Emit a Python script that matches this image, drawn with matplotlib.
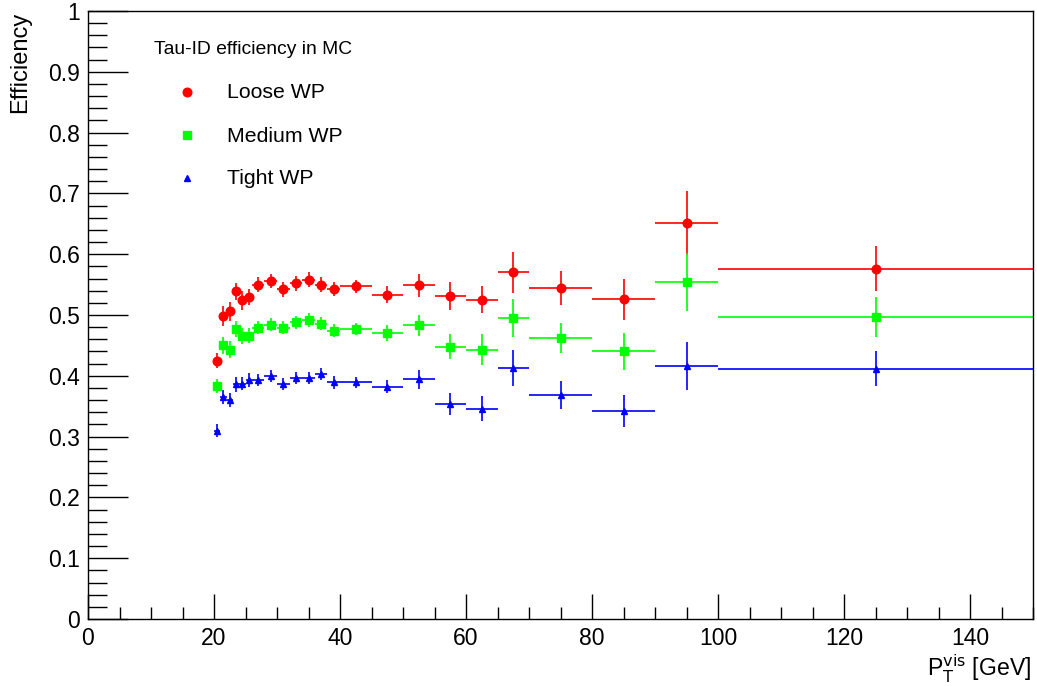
import matplotlib
matplotlib.use("Agg")
import matplotlib.pyplot as plt
from matplotlib.ticker import MultipleLocator
from matplotlib.lines import Line2D
import numpy as np

plt.rcParams['font.family'] = ['Liberation Sans', 'DejaVu Sans']

bin_edges = [20, 21, 22, 23, 24, 25, 26, 28, 30, 32, 34, 36, 38, 40, 45, 50, 55, 60, 65, 70, 80, 90, 100, 150]

loose = [0.425, 0.498, 0.506, 0.539, 0.524, 0.530, 0.550, 0.556, 0.542, 0.552, 0.558, 0.550, 0.543, 0.547,
         0.533, 0.549, 0.531, 0.525, 0.570, 0.544, 0.526, 0.651, 0.576]
loose_err = [0.012, 0.016, 0.016, 0.014, 0.015, 0.013, 0.012, 0.012, 0.012, 0.012, 0.012, 0.012, 0.012, 0.010,
             0.014, 0.019, 0.023, 0.022, 0.033, 0.028, 0.034, 0.053, 0.037]

medium = [0.383, 0.450, 0.443, 0.477, 0.466, 0.466, 0.479, 0.484, 0.479, 0.488, 0.492, 0.486, 0.474, 0.477,
          0.470, 0.483, 0.448, 0.443, 0.495, 0.462, 0.440, 0.554, 0.496]
medium_err = [0.011, 0.014, 0.014, 0.013, 0.013, 0.012, 0.011, 0.011, 0.011, 0.011, 0.011, 0.011, 0.011, 0.010,
              0.013, 0.017, 0.021, 0.025, 0.031, 0.025, 0.031, 0.048, 0.033]

tight = [0.310, 0.365, 0.360, 0.386, 0.387, 0.393, 0.393, 0.399, 0.386, 0.397, 0.397, 0.403, 0.389, 0.389,
         0.382, 0.394, 0.354, 0.346, 0.413, 0.368, 0.342, 0.416, 0.412]
tight_err = [0.010, 0.012, 0.012, 0.012, 0.011, 0.011, 0.010, 0.010, 0.010, 0.010, 0.010, 0.010, 0.010, 0.009,
             0.011, 0.016, 0.018, 0.021, 0.029, 0.023, 0.027, 0.040, 0.029]

labels = ["Loose WP", "Medium WP", "Tight WP"]
legend_title = "Tau-ID efficiency in MC"

W, H = 1037, 687
edges = np.array(bin_edges, dtype=float)
xc = 0.5 * (edges[:-1] + edges[1:])
xw = 0.5 * (edges[1:] - edges[:-1])

fig = plt.figure(figsize=(W/100, H/100), dpi=100)
ax = fig.add_axes([88/W, 1-619/H, (1033-88)/W, (619-11)/H])

series = [
    (loose, loose_err, '#ff0000', 'o', 6.2),
    (medium, medium_err, '#00ff00', 's', 5.2),
    (tight, tight_err, '#0000ff', '^', 5.0),
]
for (vals, errs, col, mk, ms), lab in zip(series, labels):
    ax.errorbar(xc, vals, xerr=xw, yerr=errs, fmt=mk, color=col, ms=ms,
                mec=col, mfc=col, elinewidth=1.2, capsize=0, label=lab)

ax.set_xlim(0, 150)
ax.set_ylim(0, 1)
ax.xaxis.set_major_locator(MultipleLocator(20))
ax.xaxis.set_minor_locator(MultipleLocator(5))
ax.yaxis.set_major_locator(MultipleLocator(0.1))
ax.yaxis.set_minor_locator(MultipleLocator(0.02))
ax.yaxis.set_major_formatter(plt.FuncFormatter(lambda v, p: "0" if abs(v) < 1e-9 else ("1" if abs(v-1) < 1e-9 else f"{v:.1f}")))
ax.tick_params(axis='both', which='both', direction='in', top=False, right=False, labelsize=16.5)
ax.tick_params(axis='x', which='major', length=18, width=1, pad=6)
ax.tick_params(axis='x', which='minor', length=9, width=1)
ax.tick_params(axis='y', which='major', length=29, width=1, pad=6)
ax.tick_params(axis='y', which='minor', length=14, width=1)
for s in ax.spines.values():
    s.set_linewidth(1.0)
    s.set_color('black')

fig.text(20/W, 1-12/H, "Efficiency", rotation=90, ha='center', va='top', fontsize=17)
fig.text(1031/W, 1-669/H, r"P$_{\mathrm{T}}^{\mathrm{vis}}$ [GeV]", ha='right', va='center', fontsize=16.6)

# legend (markers only, ROOT style)
fig.text(154/W, 1-49/H, legend_title, ha='left', va='center', fontsize=13.9)
leg_y = [92, 135, 178]
for (vals, errs, col, mk, ms), lab, yy in zip(series, labels, leg_y):
    fig.add_artist(Line2D([186.5/W], [1-yy/H], marker=mk, color=col, ms=ms, mec=col, mfc=col,
                          linestyle='none', transform=fig.transFigure))
    fig.text(227/W, 1-(yy+1)/H, lab, ha='left', va='center', fontsize=15.3)

fig.savefig("out.png", dpi=100)
